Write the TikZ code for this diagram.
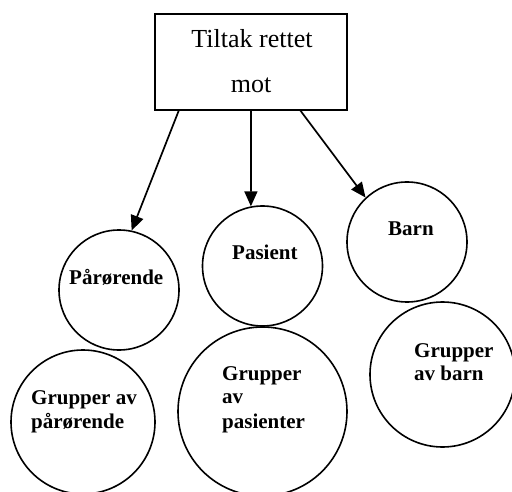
\documentclass[tikz,border=0pt]{standalone}
\usepackage{fontspec}
\setmainfont{Liberation Serif}
\usetikzlibrary{arrows.meta}
\begin{document}
\begin{tikzpicture}[x=1pt,y=1pt,
  ring/.style={draw, circle, line width=1.6pt, inner sep=0pt},
  boxstyle/.style={draw, rectangle, line width=1.7pt, minimum width=192pt, minimum height=96pt, inner sep=0pt},
  boxtext/.style={anchor=base, inner sep=0pt, font=\fontsize{26}{30}\selectfont},
  ctext/.style={anchor=base west, inner sep=0pt, font=\fontsize{21}{24}\selectfont\bfseries},
  arr/.style={line width=1.7pt, -{Triangle[length=15pt,width=13pt]}}]
\useasboundingbox (0,0) rectangle (512,491);
\clip (0,0) rectangle (512,491);
% box
\node[boxstyle] (box) at (251,429) {};
\node[boxtext] (t1) at (252,443) {Tiltak rettet};
\node[boxtext] (t2) at (251,398) {mot};
% circles
\node[ring, minimum size=120pt] (par) at (119,201) {};
\node[ring, minimum size=120pt] (pas) at (262.5,225) {};
\node[ring, minimum size=120pt] (barn) at (407,249) {};
\node[ring, minimum size=144pt] (gpar) at (83,69) {};
\node[ring, minimum size=169pt] (gpas) at (262.5,79.5) {};
\node[ring, minimum size=145pt] (gbarn) at (442.5,116.5) {};
% texts
\node[ctext] (l1) at (69,207) {Pårørende};
\node[ctext] (l2) at (232,231) {Pasient};
\node[ctext] (l3) at (388,255) {Barn};
\node[ctext] (l4) at (31,87) {Grupper av};
\node[ctext] (l5) at (31,63) {pårørende};
\node[ctext] (l6) at (222,111) {Grupper};
\node[ctext] (l7) at (222,88) {av};
\node[ctext] (l8) at (222,63) {pasienter};
\node[ctext] (l9) at (414,134) {Grupper};
\node[ctext] (l10) at (414,111) {av barn};
% arrows
\coordinate (s1) at (179,381);
\coordinate (s2) at (251,381);
\coordinate (s3) at (300,381);
\draw[arr] (s1) -- (par.78);
\draw[arr] (s2) -- (pas.101);
\draw[arr] (s3) -- (barn.133);
\end{tikzpicture}
\end{document}
